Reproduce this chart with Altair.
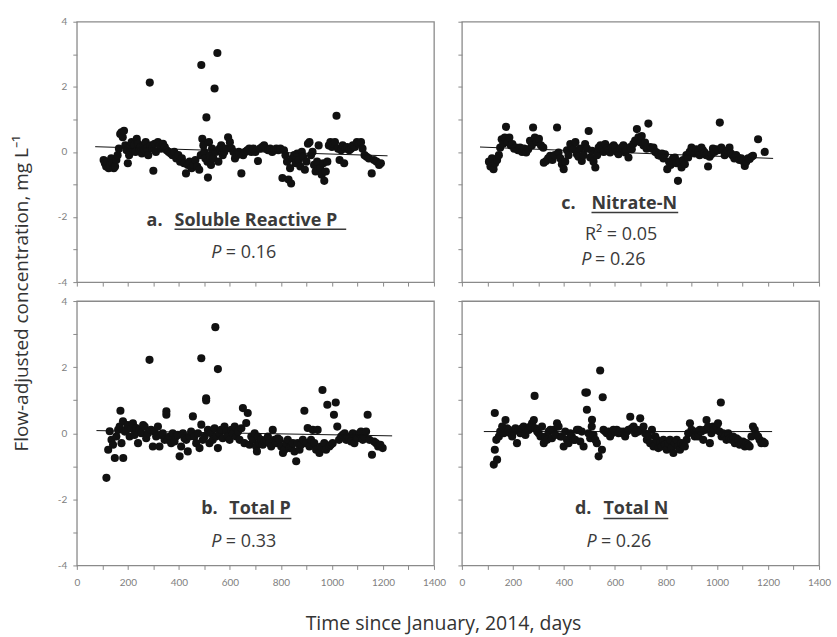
import altair as alt
import pandas as pd

# ---------------- data ----------------
# a. Soluble Reactive P
srp_day = [105,110,115,120,125,130,135,140,145,150,155,160,165,170,175,180,185,190,195,200,
           205,210,215,220,225,230,235,240,245,250,255,260,265,270,275,280,286,290,295,300,
           305,310,318,325,330,338,345,352,360,368,375,382,390,398,405,412,420,428,435,442,
           450,458,465,472,480,486,488,492,496,500,504,508,512,514,518,522,526,530,535,540,
           545,551,555,560,566,572,578,585,593,600,607,614,620,628,635,645,652,660,668,676,
           684,692,700,710,718,726,734,742,750,758,766,774,782,790,798,806,812,818,824,830,
           836,840,846,852,858,864,870,876,882,888,894,900,906,912,918,924,930,936,942,948,
           954,960,966,970,976,982,988,994,1000,1006,1012,1018,1024,1030,1036,1042,1048,1054,1060,1068,
           1075,1082,1090,1098,1106,1114,1120,1128,1136,1145,1156,1165,1175,1185,1192]
srp_val = [-0.25,-0.35,-0.45,-0.3,-0.5,-0.4,-0.2,-0.35,-0.5,-0.45,-0.25,-0.1,0.1,0.55,0.6,0.45,0.65,0.2,0.05,-0.35,
           -0.1,0.15,0.3,0.1,0.2,0.0,0.4,0.25,0.1,0.15,-0.05,0.2,0.05,0.3,0.1,-0.1,2.13,0.2,0.1,-0.58,
           0.25,0.0,0.3,0.2,0.1,0.25,0.15,0.05,0.0,-0.05,-0.1,0.0,-0.2,-0.1,-0.3,-0.2,-0.35,-0.66,-0.4,-0.3,
           -0.5,-0.4,-0.25,-0.45,-0.55,-0.1,2.67,0.4,0.2,0.0,-0.2,1.06,-0.3,-0.79,0.3,-0.1,-0.4,0.1,-0.2,1.95,
           0.0,3.04,-0.3,0.1,0.2,-0.1,0.0,0.1,0.45,0.3,0.1,0.0,-0.2,-0.1,0.0,-0.66,-0.1,0.0,0.05,0.1,
           0.0,0.1,0.0,-0.28,0.1,0.15,0.2,0.1,0.05,0.1,0.0,0.05,0.1,0.05,0.1,-0.8,0.05,-0.1,-0.3,-0.85,
           -0.5,-0.97,-0.2,-0.1,-0.35,-0.05,-0.25,-0.45,0.0,-0.15,-0.55,-0.3,0.25,0.3,-0.1,0.0,-0.4,-0.6,-0.3,0.2,
           -0.5,-0.7,-0.35,-0.89,-0.6,-0.3,0.2,0.3,0.15,0.25,0.3,1.11,0.1,-0.25,0.05,0.2,-0.35,0.1,0.15,0.05,
           0.1,0.2,0.15,0.3,0.25,0.3,0.1,-0.1,-0.15,-0.2,-0.66,-0.25,-0.3,-0.4,-0.35]

# c. Nitrate-N
no3_day = [106,112,118,124,130,138,145,150,156,162,168,173,180,186,192,198,205,212,220,228,
           236,244,252,260,267,274,279,286,294,302,310,319,321,330,338,346,355,364,373,379,
           386,392,399,405,412,418,425,432,438,445,451,457,463,470,477,483,490,497,503,510,
           516,523,530,536,543,549,556,562,569,575,581,588,595,601,608,614,620,627,633,640,
           646,653,660,666,672,679,686,692,699,705,712,718,724,731,738,745,751,758,764,770,
           777,784,790,796,805,812,818,822,828,835,841,847,854,861,867,874,880,887,893,900,
           906,912,919,926,932,939,945,952,958,965,971,978,984,990,997,1004,1011,1017,1023,1030,
           1036,1042,1049,1055,1062,1068,1075,1082,1088,1095,1101,1109,1115,1122,1128,1135,1141,1161,1187]
no3_val = [-0.3,-0.45,-0.2,-0.53,-0.35,-0.25,-0.1,0.13,0.39,0.25,0.44,0.77,0.3,0.44,0.2,0.24,0.1,0.13,0.05,0.13,
           0.0,0.1,-0.02,0.08,0.34,0.2,0.75,0.44,0.3,0.4,0.2,0.13,-0.33,-0.28,-0.2,-0.12,-0.25,-0.1,0.75,-0.02,
           -0.2,-0.38,-0.53,-0.3,0.05,-0.1,0.24,0.15,0.08,0.3,-0.07,-0.15,0.1,-0.28,-0.1,0.24,0.1,0.64,-0.17,0.03,
           -0.3,-0.48,-0.1,0.13,0.2,0.08,0.0,0.24,0.1,0.05,-0.02,0.15,0.2,0.13,0.0,-0.07,0.1,0.13,0.2,-0.02,
           0.05,-0.17,0.15,0.08,0.25,0.35,0.7,0.45,0.3,0.49,0.2,0.29,0.1,0.87,0.15,0.1,0.13,0.0,-0.02,-0.1,
           -0.12,-0.05,-0.2,-0.07,-0.53,-0.3,-0.4,-0.28,-0.2,-0.17,-0.35,-0.89,-0.3,-0.48,-0.25,-0.38,-0.1,-0.17,0.0,0.13,
           0.05,-0.05,0.08,0.0,-0.1,0.13,0.05,-0.02,-0.1,-0.45,-0.15,-0.07,0.1,0.0,0.08,0.05,0.9,0.13,0.05,-0.1,
           -0.02,0.05,0.13,-0.05,-0.12,-0.2,-0.1,-0.17,-0.25,-0.2,-0.28,-0.43,-0.3,-0.2,-0.22,-0.15,-0.12,0.39,0.0]

# b. Total P
tp_day = [116,123,129,136,142,149,155,162,168,171,175,181,182,188,194,200,207,213,220,226,
          233,240,246,253,260,266,272,279,285,291,298,304,311,318,324,330,337,344,351,351,
          357,364,370,376,383,389,396,403,409,416,422,429,435,442,448,455,461,468,475,481,
          488,488,494,501,507,507,514,520,527,533,540,543,546,553,553,559,566,572,579,586,
          592,599,606,612,619,625,632,638,645,651,657,664,670,677,684,690,697,703,706,710,
          716,723,729,736,742,749,755,762,768,775,781,788,795,801,808,814,821,827,834,840,
          847,853,860,866,873,879,886,892,899,905,912,918,925,931,938,944,951,957,963,970,
          977,982,990,996,1003,1008,1015,1021,1028,1036,1043,1050,1056,1062,1069,1075,1082,1088,1095,1101,
          1108,1114,1121,1127,1134,1140,1147,1157,1165,1173,1181,1190,1199]
tp_val = [-1.35,-0.5,0.06,-0.2,-0.35,-0.75,-0.1,0.1,0.2,0.68,-0.3,0.36,-0.75,0.05,0.1,0.25,-0.1,0.15,0.3,-0.05,
          0.16,-0.3,0.1,0.0,0.25,0.2,-0.15,0.0,2.22,0.1,-0.4,0.05,-0.1,0.2,-0.4,-0.05,0.0,-0.2,0.56,0.66,
          -0.2,-0.1,-0.3,0.0,-0.25,-0.1,-0.05,-0.7,-0.4,0.0,-0.15,-0.2,-0.55,-0.1,0.05,0.51,-0.1,-0.3,0.0,-0.45,
          2.27,0.26,-0.2,-0.1,1.06,0.99,0.1,-0.3,0.0,-0.2,0.15,3.21,-0.1,1.94,-0.45,0.0,0.1,-0.15,0.2,0.05,
          -0.1,-0.2,0.1,0.0,0.2,-0.1,0.05,-0.2,0.15,0.76,-0.3,0.31,0.61,-0.35,-0.1,-0.2,0.0,-0.4,-0.55,-0.1,
          -0.3,-0.2,-0.35,-0.25,-0.2,-0.1,-0.3,-0.4,0.1,-0.2,-0.3,-0.15,-0.2,-0.4,-0.6,-0.5,-0.3,-0.2,-0.45,-0.4,
          -0.3,-0.55,-0.85,-0.3,-0.5,-0.35,-0.2,0.68,-0.3,0.16,-0.4,-0.2,0.1,-0.3,-0.5,0.1,-0.6,-0.4,1.31,-0.3,
          -0.5,0.86,-0.4,-0.35,-0.3,0.56,0.93,0.2,-0.2,-0.1,-0.05,0.0,-0.2,-0.1,-0.15,-0.25,0.0,-0.3,-0.1,-0.15,
          0.0,0.05,-0.2,-0.1,0.05,0.56,-0.2,-0.65,-0.25,-0.3,-0.4,-0.35,-0.45]

# d. Total N
tn_day = [125,129,129,135,138,145,150,158,164,171,177,184,190,197,203,210,216,223,229,236,
          242,249,255,262,268,275,282,285,288,295,301,308,314,321,327,334,340,347,353,360,
          366,373,379,386,392,399,405,412,418,425,431,438,444,451,457,464,470,477,484,490,
          490,496,503,509,510,516,523,529,536,542,549,552,555,562,568,575,581,588,594,601,
          607,614,620,627,633,640,647,653,660,666,673,679,686,692,699,705,712,718,725,731,
          738,745,751,758,764,770,777,783,790,796,803,809,816,822,829,835,842,848,855,861,
          868,874,881,887,894,900,907,913,920,926,933,939,946,952,959,965,972,978,985,991,
          998,1004,1010,1015,1018,1024,1031,1037,1044,1050,1057,1063,1070,1076,1083,1089,1096,1102,1109,1115,
          1122,1128,1135,1141,1148,1154,1161,1167,1174,1180,1187]
tn_val = [-0.95,-0.5,0.61,-0.2,-0.8,-0.1,0.05,0.2,0.0,0.4,0.15,0.1,0.0,-0.1,0.05,0.15,-0.3,0.1,0.0,0.15,
          0.2,-0.05,0.1,0.1,0.2,0.3,0.4,1.13,0.15,0.05,0.0,-0.1,0.2,-0.3,-0.1,-0.2,0.05,0.1,-0.15,0.1,
          -0.05,0.3,0.2,-0.1,-0.1,-0.4,0.05,-0.2,-0.3,0.0,-0.1,-0.2,-0.2,0.1,0.1,-0.25,0.05,-0.4,1.23,1.23,
          0.71,0.0,-0.15,0.2,0.41,-0.05,-0.2,-0.3,-0.7,1.9,-0.5,1.09,0.1,0.05,0.0,0.05,-0.1,0.0,0.1,0.05,
          0.1,0.0,0.05,0.0,0.05,-0.1,0.05,0.1,0.5,0.15,0.2,0.0,0.1,0.05,0.45,0.1,0.2,0.0,-0.2,-0.1,
          -0.3,0.1,-0.4,-0.1,-0.2,-0.45,-0.3,-0.4,-0.2,-0.35,-0.5,-0.3,-0.2,-0.45,-0.6,-0.3,-0.2,-0.4,-0.5,-0.3,
          -0.35,-0.4,-0.2,0.0,0.3,0.1,0.0,-0.1,0.05,-0.1,0.1,0.05,-0.2,0.1,0.4,0.2,-0.3,0.0,0.2,0.1,
          0.2,0.3,0.05,0.93,-0.1,0.0,-0.1,-0.2,0.0,-0.15,-0.2,-0.1,-0.3,-0.15,-0.2,-0.35,-0.3,-0.25,-0.4,-0.3,
          -0.35,-0.4,-0.1,0.2,0.1,-0.05,-0.1,-0.2,-0.3,-0.25,-0.3]

# trend lines (endpoints)
trend_a_x = [72, 1218];  trend_a_y = [0.16, -0.12]
trend_c_x = [71, 1220];  trend_c_y = [0.15, -0.20]
trend_b_x = [77, 1236];  trend_b_y = [0.08, -0.08]
trend_d_x = [86, 1216];  trend_d_y = [0.05, 0.05]

# panel annotations
letters = ["a.", "c.", "b.", "d."]
names = ["Soluble Reactive P", "Nitrate-N", "Total P", "Total N"]
pvals = ["= 0.16", "= 0.26", "= 0.33", "= 0.26"]
r2_text = "R\u00b2 = 0.05"

# annotation anchor positions in data units (day, concentration)
letter_x = [336, 446, 552, 508]
name_x0 = [383, 508, 598, 555]
name_x1 = [1056, 848, 841, 809]
name_y = [-2.12, -1.60, -2.28, -2.28]
under_y = [-2.38, -1.86, -2.58, -2.58]
p_x = [567, 508, 567, 528]
pval_x = [584, 522, 584, 545]
p_y = [-3.10, -3.32, -3.28, -3.28]
r2_x = 624
r2_y = -2.54

FONT = "Open Sans"
TICKFONT = "Lato"
INK = "#111111"
TXT = "#3a3a3a"


def panel(i, day, val, tx, ty, xlabels, ylabels, w, h, ytitle=None, xtitle=None):
    xaxis_kw = dict(
        values=list(range(0, 1401, 100)),
        labelExpr="datum.value % 200 == 0 ? '' + datum.value : ''",
        labels=xlabels, domain=False, grid=False, tickSize=4, tickColor="#8a8a8a",
        labelColor="#808080", labelFontSize=10, labelFont=TICKFONT, labelPadding=8,
        labelFlush=False, labelOverlap=False,
    )
    if xtitle:
        xaxis_kw.update(title=xtitle, titleX=367, titleY=58, titleBaseline="middle",
                        titleAlign="center", titleFont=FONT, titleFontSize=19.5,
                        titleFontWeight="normal", titleColor="#333333")
    else:
        xaxis_kw.update(title=None)
    yaxis_kw = dict(
        values=list(range(-4, 5, 1)),
        labelExpr="datum.value % 2 == 0 ? '' + datum.value : ''",
        labels=ylabels, domain=False, grid=False, tickSize=4, tickColor="#8a8a8a",
        labelColor="#808080", labelFontSize=10, labelFont=TICKFONT, labelPadding=6,
        labelFlush=False, labelOverlap=False,
    )
    if ytitle:
        yaxis_kw.update(title=ytitle, titleX=-55, titleY=272, titleBaseline="middle",
                        titleAlign="center", titleAngle=270, titleFont=FONT, titleFontSize=19,
                        titleFontWeight="normal", titleColor="#333333")
    else:
        yaxis_kw.update(title=None)

    X = alt.X("x:Q", scale=alt.Scale(domain=[0, 1400], nice=False, zero=False),
              axis=alt.Axis(**xaxis_kw))
    Y = alt.Y("y:Q", scale=alt.Scale(domain=[-4, 4], nice=False, zero=False),
              axis=alt.Axis(**yaxis_kw))

    pts = alt.Chart(pd.DataFrame({"x": day, "y": val})).mark_circle(
        size=66, color=INK, opacity=1).encode(x=X, y=Y)
    trend = alt.Chart(pd.DataFrame({"x": tx, "y": ty})).mark_line(
        color=INK, strokeWidth=1).encode(x=X, y=Y)

    lab = alt.Chart(pd.DataFrame({"x": [letter_x[i]], "y": [name_y[i]], "t": [letters[i]]})).mark_text(
        font=FONT, fontSize=18, fontWeight="bold", align="right", baseline="middle", color=TXT
    ).encode(x=X, y=Y, text="t:N")
    nm = alt.Chart(pd.DataFrame({"x": [name_x0[i]], "y": [name_y[i]], "t": [names[i]]})).mark_text(
        font=FONT, fontSize=18, fontWeight="bold", align="left", baseline="middle", color=TXT
    ).encode(x=X, y=Y, text="t:N")
    ul = alt.Chart(pd.DataFrame({"x": [name_x0[i]], "x2": [name_x1[i]], "y": [under_y[i]]})).mark_rule(
        color=TXT, strokeWidth=1.5).encode(x=X, x2="x2:Q", y=Y)
    pp = alt.Chart(pd.DataFrame({"x": [p_x[i]], "y": [p_y[i]], "t": ["P"]})).mark_text(
        font=FONT, fontSize=18, fontStyle="italic", align="right", baseline="middle", color=TXT
    ).encode(x=X, y=Y, text="t:N")
    pv = alt.Chart(pd.DataFrame({"x": [pval_x[i]], "y": [p_y[i]], "t": [pvals[i]]})).mark_text(
        font=FONT, fontSize=18, align="left", baseline="middle", color=TXT
    ).encode(x=X, y=Y, text="t:N")
    layers = [pts, trend, lab, nm, ul, pp, pv]
    if i == 1:
        r2 = alt.Chart(pd.DataFrame({"x": [r2_x], "y": [r2_y], "t": [r2_text]})).mark_text(
            font=FONT, fontSize=18, align="center", baseline="middle", color=TXT
        ).encode(x=X, y=Y, text="t:N")
        layers.append(r2)
    return alt.layer(*layers).properties(width=w, height=h)


pa = panel(0, srp_day, srp_val, trend_a_x, trend_a_y, False, True, 358, 261,
           ytitle="Flow-adjusted concentration, mg L\u207b\u00b9")
pc = panel(1, no3_day, no3_val, trend_c_x, trend_c_y, False, False, 358, 261)
pb = panel(2, tp_day, tp_val, trend_b_x, trend_b_y, True, True, 358, 265,
           xtitle="Time since January, 2014, days")
pd_ = panel(3, tn_day, tn_val, trend_d_x, trend_d_y, True, False, 358, 265)

chart = alt.concat(pa, pc, pb, pd_, columns=2, spacing={"row": 19, "column": 28},
                   bounds="flush").properties(
    padding={"left": 12, "top": 15, "right": 5, "bottom": 5},
    background="white",
).configure_view(stroke="#8a8a8a", strokeWidth=1.3)

chart.save("out.html", embed_options={"renderer": "svg", "actions": False})
